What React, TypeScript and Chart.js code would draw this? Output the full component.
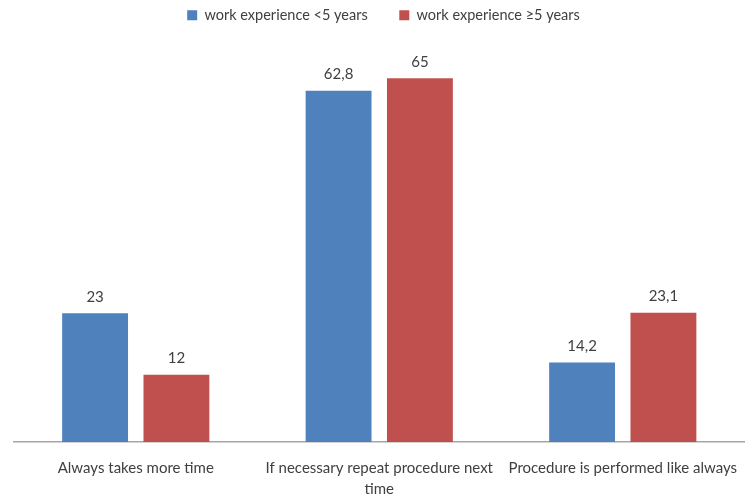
import React, { useEffect, useRef } from "react";
import { Chart, registerables } from "chart.js";

Chart.register(...registerables);

const categories: (string | string[])[] = [
  "Always takes more time",
  ["If necessary repeat procedure next", "time"],
  "Procedure is performed like always",
];
const seriesNames = ["work experience <5 years", "work experience \u22655 years"];
const lessThan5 = [23, 62.8, 14.2];
const atLeast5 = [12, 65, 23.1];
const colors = ["#4F81BD", "#C0504D"];

const FONT = "Lato, 'Open Sans', sans-serif";

const valueLabels = {
  id: "valueLabels",
  afterDatasetsDraw(chart: any) {
    const ctx = chart.ctx;
    ctx.save();
    ctx.font = `15px ${FONT}`;
    ctx.fillStyle = "#404040";
    ctx.textAlign = "center";
    ctx.textBaseline = "bottom";
    chart.data.datasets.forEach((ds: any, di: number) => {
      const meta = chart.getDatasetMeta(di);
      meta.data.forEach((bar: any, i: number) => {
        const v = ds.data[i] as number;
        const txt = String(v).replace(".", ",");
        ctx.fillText(txt, bar.x, bar.y - 9);
      });
    });
    ctx.restore();
  },
};

export default function App() {
  const ref = useRef<HTMLCanvasElement | null>(null);
  useEffect(() => {
    if (!ref.current) return;
    const chart = new Chart(ref.current, {
      type: "bar",
      data: {
        labels: categories,
        datasets: [
          { label: seriesNames[0], data: lessThan5, backgroundColor: colors[0] },
          { label: seriesNames[1], data: atLeast5, backgroundColor: colors[1] },
        ],
      },
      options: {
        animation: false,
        responsive: true,
        maintainAspectRatio: false,
        layout: { padding: { left: 14, right: -8, top: 0, bottom: -13 } },
        datasets: { bar: { categoryPercentage: 0.668, barPercentage: 0.81 } },
        plugins: {
          legend: {
            position: "top",
            labels: {
              boxWidth: 10,
              boxHeight: 10,
              padding: 8,
              color: "#404040",
              font: { family: FONT, size: 14.5 },
              generateLabels(chart: any) {
                const items = Chart.defaults.plugins.legend.labels.generateLabels(chart);
                return items.map((it: any, i: number) =>
                  i < items.length - 1 ? { ...it, text: it.text + "\u2003\u2003\u2009" } : it
                );
              },
            },
          },
          tooltip: { enabled: false },
        },
        scales: {
          x: {
            grid: { display: false },
            border: { display: true, color: "#A6A6A6", width: 1.5 },
            ticks: {
              color: "#404040",
              font: { family: FONT, size: 15, lineHeight: 1.4 },
              maxRotation: 0,
              autoSkip: false,
              padding: 8,
            },
          },
          y: {
            display: false,
            min: 0,
            max: 73.2,
          },
        },
      },
      plugins: [valueLabels],
    });
    return () => chart.destroy();
  }, []);
  return (
    <div style={{ position: "fixed", left: 0, top: 0, width: 745, height: 495, background: "#fff" }}>
      <canvas ref={ref} />
    </div>
  );
}
